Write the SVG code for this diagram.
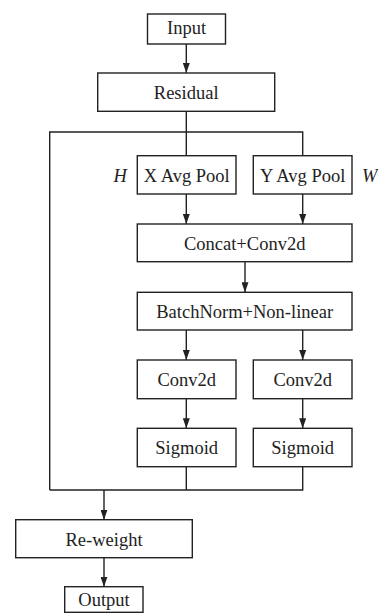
<svg xmlns="http://www.w3.org/2000/svg" width="378" height="613" viewBox="0 0 378 613">
<style>
.box{fill:#fff;stroke:#222;stroke-width:1.4}
.t{font-family:"Liberation Serif","Times New Roman",serif;font-size:18.5px;fill:#222;text-anchor:middle}
.it{font-family:"Liberation Serif","Times New Roman",serif;font-size:18.5px;font-style:italic;fill:#222}
.ln{fill:none;stroke:#222;stroke-width:1.4}
</style>
<defs>
<marker id="ah" markerUnits="userSpaceOnUse" markerWidth="10" markerHeight="7" refX="10" refY="3.5" orient="auto">
<path d="M0,0 L10,3.5 L0,7 z" fill="#222"/>
</marker>
</defs>
<rect width="378" height="613" fill="#fff"/>
<g id="connectors">
<line class="ln" x1="186.3" y1="44" x2="186.3" y2="73" marker-end="url(#ah)"/>
<polyline class="ln" points="186.3,111.3 186.3,155.7"/>
<polyline class="ln" points="49.7,490 49.7,132 302.7,132 302.7,155.7"/>
<line class="ln" x1="186.3" y1="194" x2="186.3" y2="224" marker-end="url(#ah)"/>
<line class="ln" x1="302.7" y1="194" x2="302.7" y2="224" marker-end="url(#ah)"/>
<line class="ln" x1="245" y1="261.7" x2="245" y2="292.3" marker-end="url(#ah)"/>
<line class="ln" x1="186.3" y1="330" x2="186.3" y2="360" marker-end="url(#ah)"/>
<line class="ln" x1="302.7" y1="330" x2="302.7" y2="360" marker-end="url(#ah)"/>
<line class="ln" x1="186.3" y1="398.7" x2="186.3" y2="428.3" marker-end="url(#ah)"/>
<line class="ln" x1="302.7" y1="398.7" x2="302.7" y2="428.3" marker-end="url(#ah)"/>
<polyline class="ln" points="186.3,466.7 186.3,490"/>
<polyline class="ln" points="49.7,490 302.7,490 302.7,466.7"/>
<line class="ln" x1="104" y1="490" x2="104" y2="519.7" marker-end="url(#ah)"/>
<line class="ln" x1="104" y1="557.7" x2="104" y2="586.7" marker-end="url(#ah)"/>
</g>
<g id="input"><rect class="box" x="147.5" y="14" width="78" height="30"/><text class="t" x="186.5" y="33.5">Input</text></g>
<g id="residual"><rect class="box" x="97.7" y="73" width="177" height="38.3"/><text class="t" x="186.2" y="99">Residual</text></g>
<g id="xpool"><rect class="box" x="137.3" y="155.7" width="98.7" height="38.3"/><text class="t" x="186.7" y="181.5">X Avg Pool</text></g>
<g id="ypool"><rect class="box" x="253.3" y="155.7" width="98.7" height="38.3"/><text class="t" x="302.7" y="181.5">Y Avg Pool</text></g>
<g id="labelH"><text class="it" x="113.5" y="181.7">H</text></g>
<g id="labelW"><text class="it" x="362" y="181.7">W</text></g>
<g id="concat"><rect class="box" x="137.3" y="224" width="214.7" height="37.7"/><text class="t" x="244.7" y="249.5">Concat+Conv2d</text></g>
<g id="bn"><rect class="box" x="137.3" y="292.3" width="214.7" height="37.7"/><text class="t" x="244.7" y="318">BatchNorm+Non-linear</text></g>
<g id="conv1"><rect class="box" x="137.3" y="360" width="98.7" height="38.7"/><text class="t" x="186.7" y="386">Conv2d</text></g>
<g id="conv2"><rect class="box" x="253.3" y="360" width="98.7" height="38.7"/><text class="t" x="302.7" y="386">Conv2d</text></g>
<g id="sig1"><rect class="box" x="137.3" y="428.3" width="98.7" height="38.4"/><text class="t" x="186.7" y="454">Sigmoid</text></g>
<g id="sig2"><rect class="box" x="253.3" y="428.3" width="98.7" height="38.4"/><text class="t" x="302.7" y="454">Sigmoid</text></g>
<g id="reweight"><rect class="box" x="15.7" y="519.7" width="176.6" height="38"/><text class="t" x="104" y="545.5">Re-weight</text></g>
<g id="output"><rect class="box" x="64.7" y="586.7" width="78.3" height="25.6"/><text class="t" x="104" y="606">Output</text></g>
</svg>
